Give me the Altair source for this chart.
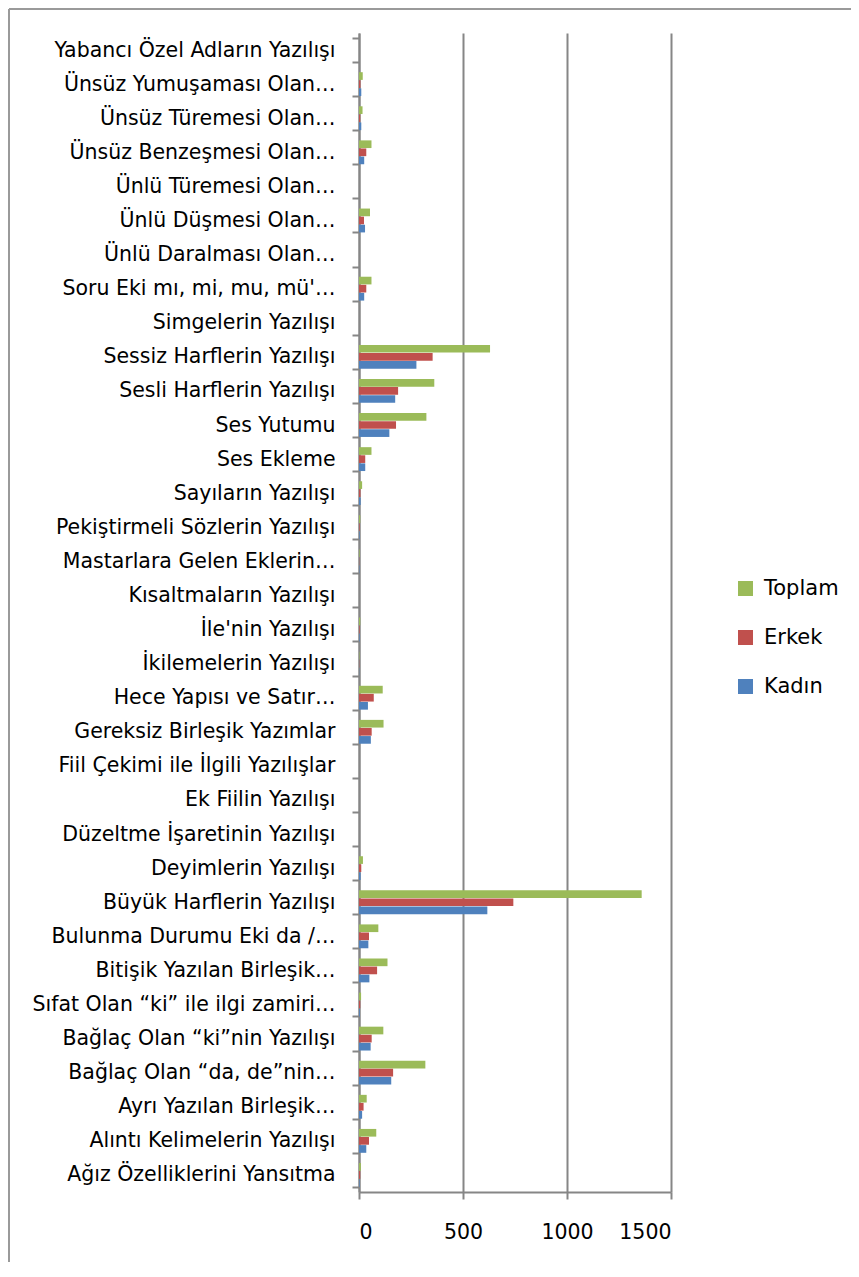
import altair as alt
import pandas as pd

categories = [
    "Yabancı Özel Adların Yazılışı",
    "Ünsüz Yumuşaması Olan…",
    "Ünsüz Türemesi Olan…",
    "Ünsüz Benzeşmesi Olan…",
    "Ünlü Türemesi Olan…",
    "Ünlü Düşmesi Olan…",
    "Ünlü Daralması Olan…",
    "Soru Eki mı, mi, mu, mü'…",
    "Simgelerin Yazılışı",
    "Sessiz Harflerin Yazılışı",
    "Sesli Harflerin Yazılışı",
    "Ses Yutumu",
    "Ses Ekleme",
    "Sayıların Yazılışı",
    "Pekiştirmeli Sözlerin Yazılışı",
    "Mastarlara Gelen Eklerin…",
    "Kısaltmaların Yazılışı",
    "İle'nin Yazılışı",
    "İkilemelerin Yazılışı",
    "Hece Yapısı ve Satır…",
    "Gereksiz Birleşik Yazımlar",
    "Fiil Çekimi ile İlgili Yazılışlar",
    "Ek Fiilin Yazılışı",
    "Düzeltme İşaretinin Yazılışı",
    "Deyimlerin Yazılışı",
    "Büyük Harflerin Yazılışı",
    "Bulunma Durumu Eki da /…",
    "Bitişik Yazılan Birleşik…",
    "Sıfat Olan “ki” ile ilgi zamiri…",
    "Bağlaç Olan “ki”nin Yazılışı",
    "Bağlaç Olan “da, de”nin…",
    "Ayrı Yazılan Birleşik…",
    "Alıntı Kelimelerin Yazılışı",
    "Ağız Özelliklerini Yansıtma",
]

kadin = [0, 11, 11, 25, 0, 29, 0, 25, 0, 276, 174, 146, 30, 8, 3, 2, 0, 3, 1, 43,
         57, 0, 0, 0, 8, 617, 45, 50, 4, 56, 155, 15, 35, 3]
erkek = [0, 7, 6, 35, 0, 24, 0, 35, 0, 354, 188, 178, 30, 7, 3, 1, 0, 3, 1, 71,
         61, 0, 0, 0, 11, 742, 48, 87, 6, 61, 164, 22, 48, 6]
toplam = [0, 18, 17, 60, 0, 53, 0, 60, 0, 630, 362, 324, 60, 15, 6, 3, 0, 6, 2, 114,
          118, 0, 0, 0, 19, 1359, 93, 137, 10, 117, 319, 37, 83, 9]

series = ["Toplam", "Erkek", "Kadın"]
colors = ["#9BBB59", "#C0504D", "#4F81BD"]
x_ticks = [0, 500, 1000, 1500]

rows = []
for i, c in enumerate(categories):
    rows.append({"kategori": c, "seri": "Toplam", "deger": toplam[i]})
    rows.append({"kategori": c, "seri": "Erkek", "deger": erkek[i]})
    rows.append({"kategori": c, "seri": "Kadın", "deger": kadin[i]})
df = pd.DataFrame(rows)

FONT = "DejaVu Sans"
GRAY = "#868686"

bars = alt.Chart(df).mark_bar().encode(
    y=alt.Y(
        "kategori:N",
        sort=categories,
        scale=alt.Scale(paddingInner=0.3, paddingOuter=0.15),
        axis=alt.Axis(
            title=None,
            tickBand="extent",
            tickSize=7,
            tickColor=GRAY,
            tickWidth=2,
            domainColor=GRAY,
            domainWidth=2,
            labelPadding=17,
            labelFontSize=20.5,
            labelFont=FONT,
            labelColor="#000000",
            labelLimit=400,
        ),
    ),
    yOffset=alt.YOffset("seri:N", sort=series, scale=alt.Scale(paddingInner=0.05)),
    x=alt.X(
        "deger:Q",
        scale=alt.Scale(domain=[0, 1500], nice=False),
        axis=alt.Axis(
            title=None,
            values=x_ticks,
            format="d",
            tickSize=7,
            tickColor=GRAY,
            tickWidth=2,
            domainColor=GRAY,
            domainWidth=2,
            grid=True,
            gridColor=GRAY,
            gridWidth=2,
            labelPadding=23,
            labelFontSize=20.5,
            labelFont=FONT,
            labelColor="#000000",
        ),
    ),
    color=alt.Color(
        "seri:N",
        scale=alt.Scale(domain=series, range=colors),
        legend=alt.Legend(
            title=None,
            orient="none",
            legendX=376,
            legendY=545,
            symbolType="square",
            symbolSize=225,
            symbolStrokeWidth=0,
            labelFontSize=21,
            labelFont=FONT,
            labelColor="#000000",
            rowPadding=27,
            labelOffset=8,
        ),
    ),
)

frame_df = pd.DataFrame({"k": [0]})
frame_left = alt.Chart(frame_df).mark_rule(color="#9a9a9a", strokeWidth=2).encode(
    x=alt.value(-350), y=alt.value(-24), y2=alt.value(1260)
)
frame_top = alt.Chart(frame_df).mark_rule(color="#9a9a9a", strokeWidth=2).encode(
    x=alt.value(-350), x2=alt.value(500), y=alt.value(-24)
)

chart = alt.layer(bars, frame_left, frame_top).properties(
    width=312,
    height=1159,
    autosize=alt.AutoSizeParams(type="none"),
    padding={"left": 351, "top": 25, "right": 180, "bottom": 70},
).configure_view(strokeWidth=0)

chart.save("out.html", embed_options={"renderer": "svg", "actions": False})
